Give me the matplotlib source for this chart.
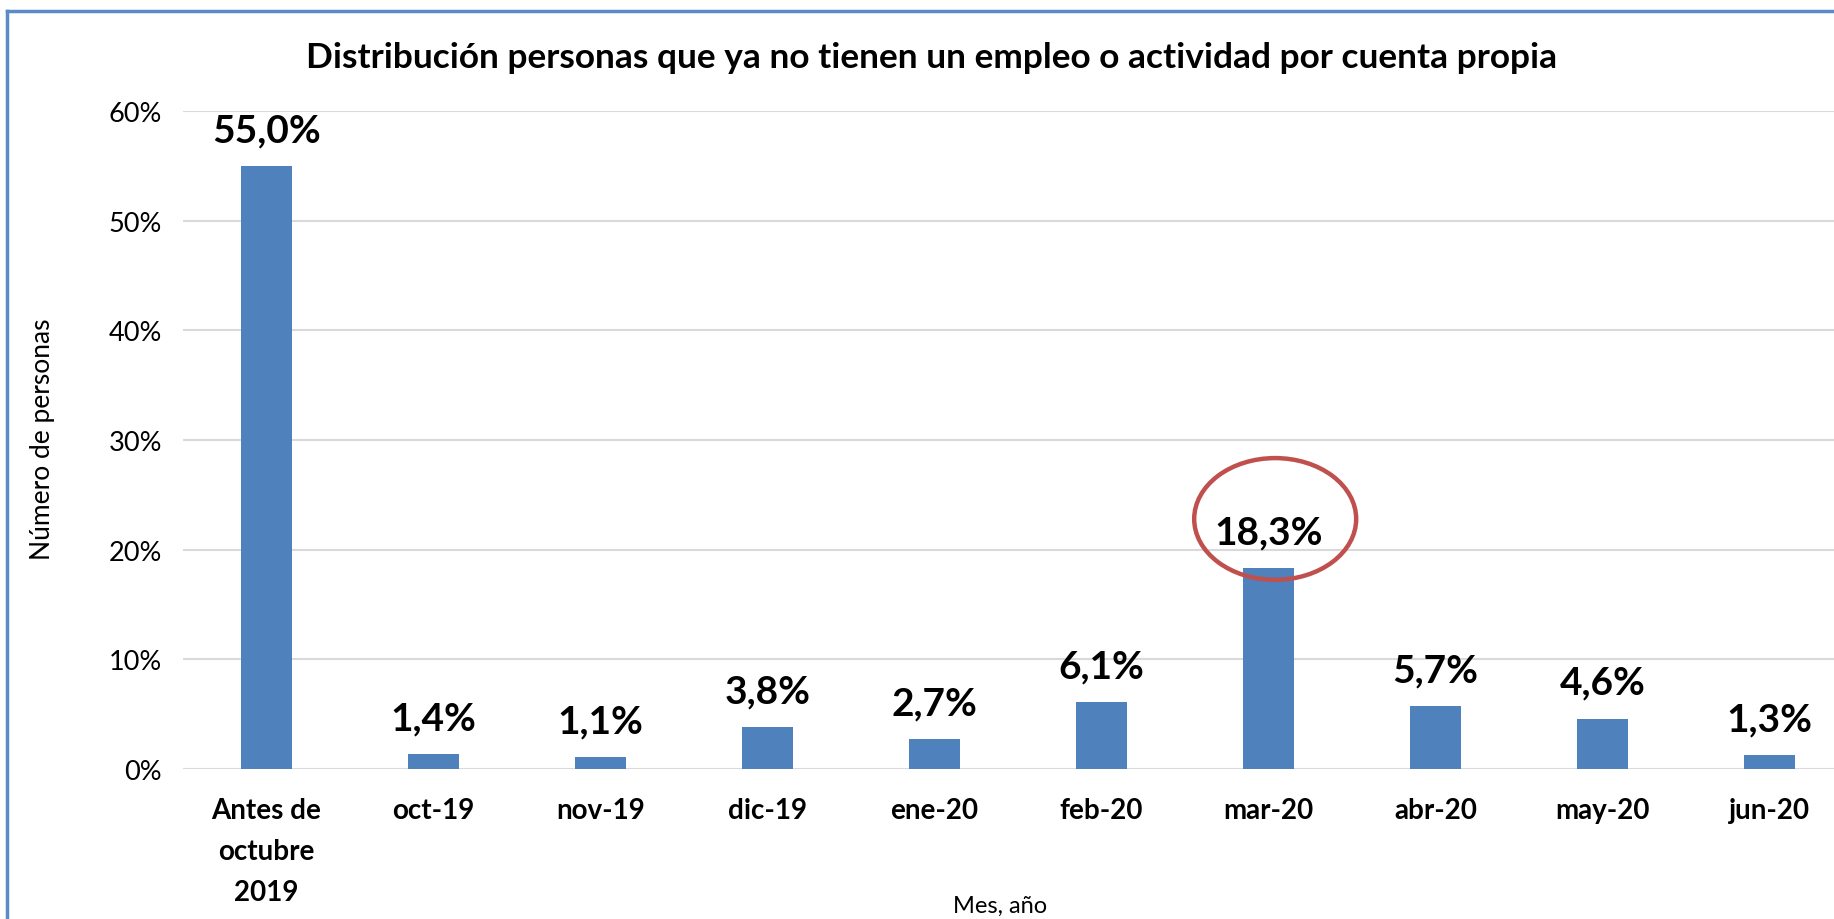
import numpy as np
import matplotlib
matplotlib.use("Agg")
from matplotlib import pyplot as plt
from matplotlib.patches import Ellipse
from matplotlib.lines import Line2D

categories = ["Antes de\noctubre\n2019", "oct-19", "nov-19", "dic-19", "ene-20",
              "feb-20", "mar-20", "abr-20", "may-20", "jun-20"]
values = [55.0, 1.4, 1.1, 3.8, 2.7, 6.1, 18.3, 5.7, 4.6, 1.3]
y_ticks = [0, 10, 20, 30, 40, 50, 60]
highlight = 6  # mar-20 gets the red ring

plt.rcParams['font.family'] = ['Lato', 'DejaVu Sans']

fig = plt.figure(figsize=(18.34, 9.2), dpi=100)
# axes runs past the right edge, the original screenshot is cropped there
ax = fig.add_axes([183 / 1834, 1 - 770 / 920, 1670 / 1834, 658 / 920])

x = np.arange(len(values))
vals = np.array(values) / 100
ax.bar(x, vals, width=0.31, color="#4F81BD", zorder=3)

for xi, v in zip(x, values):
    ax.annotate(f"{v:.1f}%".replace(".", ","), (xi, v / 100),
                xytext=(0, 26), textcoords="offset points",
                ha="center", va="center", fontsize=28, fontweight="bold")

ax.add_patch(Ellipse((highlight + 0.04, 0.228), 0.97, 0.111,
                     fill=False, edgecolor="#C0504D", linewidth=3.2, zorder=4))

ax.set_xlim(-0.5, len(values) - 0.5)
ax.set_ylim(0, 0.6)
ax.set_yticks([t / 100 for t in y_ticks])
ax.set_yticklabels([f"{t}%" for t in y_ticks])
ax.set_xticks(x)
ax.set_xticklabels(categories, fontweight="bold", fontsize=20, linespacing=1.72)
ax.tick_params(axis="y", length=0, pad=15, labelsize=19.5)
ax.tick_params(axis="x", length=0, pad=20)
ax.grid(axis="y", color="#D9D9D9", linewidth=1.5, zorder=0)
for s in ax.spines.values():
    s.set_visible(False)

fig.text(43 / 1834, 1 - 439 / 920, "Número de personas", rotation=90,
         ha="center", va="center", fontsize=19)
fig.text(1000 / 1834, 1 - 906 / 920, "Mes, año", ha="center", va="center", fontsize=17)
fig.text(932 / 1834, 1 - 58 / 920,
         "Distribución personas que ya no tienen un empleo o actividad por cuenta propia",
         ha="center", va="center", fontsize=25.4, fontweight="bold")

# chart frame, only the left and top edges show in the crop
frame_x = 7 / 1834
frame_y = 1 - 12 / 920
fig.add_artist(Line2D([frame_x, frame_x], [0, frame_y], transform=fig.transFigure,
                      color="#5B8AC6", linewidth=2.5))
fig.add_artist(Line2D([frame_x, 1], [frame_y, frame_y], transform=fig.transFigure,
                      color="#5B8AC6", linewidth=2.5))

fig.savefig("out.png", dpi=100)
